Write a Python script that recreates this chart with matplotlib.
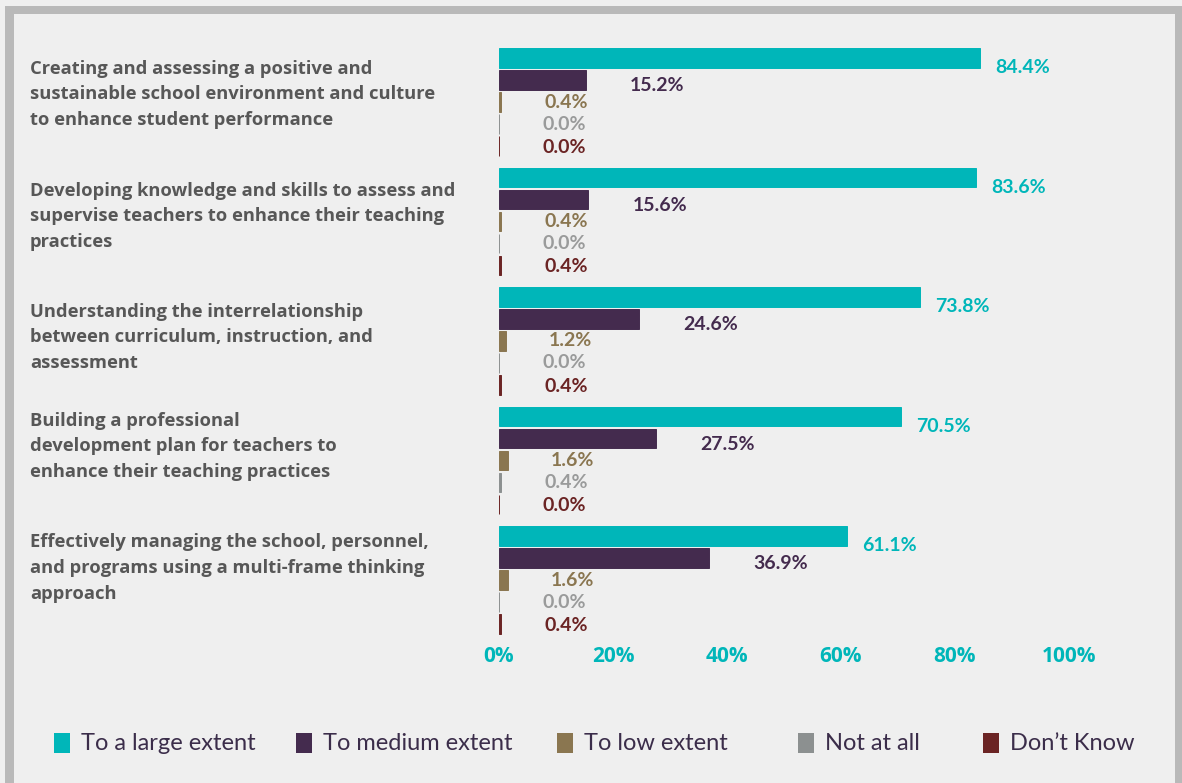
import matplotlib.pyplot as plt
from matplotlib.patches import Rectangle
from matplotlib.transforms import blended_transform_factory

# ---- data -------------------------------------------------------------
categories = [
    "Creating and assessing a positive and\nsustainable school environment and culture\nto enhance student performance",
    "Developing knowledge and skills to assess and\nsupervise teachers to enhance their teaching\npractices",
    "Understanding the interrelationship\nbetween curriculum, instruction, and\nassessment",
    "Building a professional\ndevelopment plan for teachers to\nenhance their teaching practices",
    "Effectively managing the school, personnel,\nand programs using a multi-frame thinking\napproach",
]
series_names = ["To a large extent", "To medium extent", "To low extent", "Not at all", "Don\u2019t Know"]
large_extent = [84.4, 83.6, 73.8, 70.5, 61.1]
medium_extent = [15.2, 15.6, 24.6, 27.5, 36.9]
low_extent = [0.4, 0.4, 1.2, 1.6, 1.6]
not_at_all = [0.0, 0.0, 0.0, 0.4, 0.0]
dont_know = [0.0, 0.4, 0.4, 0.0, 0.4]
x_ticks = [0, 20, 40, 60, 80, 100]
x_tick_labels = ["0%", "20%", "40%", "60%", "80%", "100%"]

# ---- style ------------------------------------------------------------
W, H = 1182, 783
BG = "#efefef"
bar_colors = ["#00b6b9", "#442b4e", "#8a7650", "#8c9090", "#6b2424"]
label_colors = ["#00b6b9", "#442b4e", "#8a7650", "#9a9b9b", "#6b2424"]
cat_color = "#575757"
legend_text_color = "#3b2d4a"

fig = plt.figure(figsize=(W / 100, H / 100), dpi=100, facecolor=BG)

# frame around the panel
frame = "#b9b9b9"
def px_rect(x0, y0, x1, y1):
    fig.add_artist(Rectangle((x0 / W, 1 - y1 / H), (x1 - x0) / W, (y1 - y0) / H,
                             transform=fig.transFigure, facecolor=frame,
                             edgecolor="none", zorder=0))
px_rect(5, 6, 1182, 14)     # top
px_rect(5, 6, 14, 790)      # left
px_rect(1175, 6, 1190, 790) # right

# axes: 0% at x=499px, 100% at x=1069px
ax_left, ax_right = 499, 1069
ax_top, ax_bottom = 47, 635
ax = fig.add_axes([ax_left / W, 1 - ax_bottom / H,
                   (ax_right - ax_left) / W, (ax_bottom - ax_top) / H])
ax.set_facecolor("none")

group_gap = 119.5 / 22.0
bar_h = 0.9
all_series = [large_extent, medium_extent, low_extent, not_at_all, dont_know]
n_groups = len(categories)

# label offsets (points): x away from bar end, y shift downward
x_off = [11, 32, 31, 31, 31]
y_off = [-7, -4, 0, 0, -1]

for j, (vals, col, lcol) in enumerate(zip(all_series, bar_colors, label_colors)):
    ys = [i * group_gap + j for i in range(n_groups)]
    ax.barh(ys, vals, height=bar_h, color=col, edgecolor=col, linewidth=0.7)
    for y, v in zip(ys, vals):
        ax.annotate(f"{v:.1f}%", xy=(v, y), xytext=(x_off[j], y_off[j]),
                    textcoords="offset points", ha="left", va="center",
                    color=lcol, fontsize=14, fontweight="bold",
                    family="Lato", annotation_clip=False)

ax.set_xlim(0, 100)
ax.set_ylim((n_groups - 1) * group_gap + 4 + 0.5, -0.5)
ax.set_xticks(x_ticks)
ax.set_xticklabels(x_tick_labels)
ax.set_yticks([])
ax.tick_params(axis="x", length=0, pad=8, labelsize=15, labelcolor="#00b6b9")
for lab in ax.get_xticklabels():
    lab.set_fontweight("bold")
    lab.set_family("Open Sans")
for s in ax.spines.values():
    s.set_visible(False)

# category labels, left-aligned at x=30px
trans = blended_transform_factory(fig.transFigure, ax.transData)
cat_shift = [1.65, 1.76, 1.83, 1.35, 1.46]
for i, cat in enumerate(categories):
    ax.text(30 / W, i * group_gap + cat_shift[i], cat, transform=trans,
            ha="left", va="center", fontsize=13.2, fontweight="bold",
            family="Open Sans", color=cat_color, linespacing=1.55)

# legend row
legend_sq_x = [54, 296, 557, 798, 983]
legend_y = 743
for name, col, sx in zip(series_names, bar_colors, legend_sq_x):
    fig.add_artist(Rectangle((sx / W, 1 - (legend_y + 10) / H), 16 / W, 20 / H,
                             transform=fig.transFigure, facecolor=col,
                             edgecolor="none"))
    fig.text((sx + 27) / W, 1 - legend_y / H, name, ha="left", va="center",
             fontsize=17, family="Lato", color=legend_text_color)

fig.savefig("out.png", dpi=100, facecolor=BG)
